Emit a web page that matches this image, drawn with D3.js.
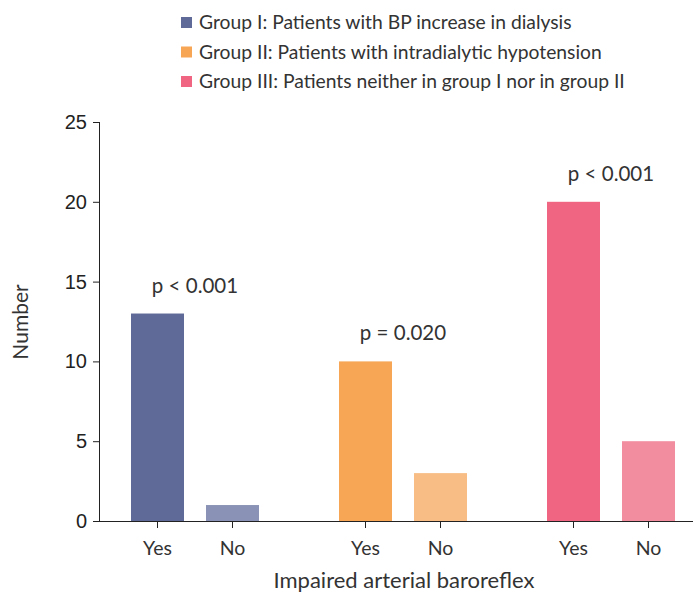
<!DOCTYPE html>
<html><head><meta charset="utf-8">
<script src="https://cdn.jsdelivr.net/npm/d3@7"></script>
<style>body{margin:0;background:#fff}svg{display:block}</style>
</head><body>
<svg id="c" width="694" height="592"></svg>
<script>
const groups = ["Group I", "Group II", "Group III"];
const legendLabels = [
  "Group I: Patients with BP increase in dialysis",
  "Group II: Patients with intradialytic hypotension",
  "Group III: Patients neither in group I nor in group II"
];
const subCats = ["Yes", "No"];
const yesValues = [13, 10, 20];
const noValues = [1, 3, 5];
const pLabels = ["p < 0.001", "p = 0.020", "p < 0.001"];
const yTicks = [0, 5, 10, 15, 20, 25];
const yesColors = ["#5f6a98", "#f7a655", "#f06682"];
const noColors = ["#8a93b6", "#f8bd84", "#f28da0"];

const svg = d3.select("#c");
const sansFont = "Lato, 'Source Sans Pro', sans-serif";
const textCol = "#333";

const x0 = 100, x1 = 693, yTop = 122, yBot = 521;
const y = d3.scaleLinear().domain([0, 25]).range([yBot, yTop]);
const gx = d3.scalePoint().domain(groups).range([195, 611]);
const sx = d3.scalePoint().domain(subCats).range([-37.5, 37.5]);
const barW = 53;

const data = [];
groups.forEach((g, i) => {
  data.push({g, s: "Yes", v: yesValues[i], c: yesColors[i]});
  data.push({g, s: "No", v: noValues[i], c: noColors[i]});
});

svg.selectAll("rect.bar").data(data).join("rect")
  .attr("class", "bar")
  .attr("x", d => gx(d.g) + sx(d.s) - barW / 2)
  .attr("width", barW)
  .attr("y", d => y(d.v))
  .attr("height", d => y(0) - y(d.v))
  .attr("fill", d => d.c);

// Y axis
const yAxis = svg.append("g").attr("transform", `translate(${x0},0)`)
  .call(d3.axisLeft(y).tickValues(yTicks).tickSize(7).tickPadding(6));
yAxis.select(".domain").attr("stroke", "#222").attr("d", `M-0.5,${yTop}V${yBot}`);
yAxis.selectAll(".tick line").attr("stroke", "#222");
yAxis.selectAll(".tick text").attr("font-family", "'Liberation Sans', Arial, sans-serif")
  .attr("font-size", 20).attr("fill", "#222");

// X axis
svg.append("line").attr("x1", x0 - 0.5).attr("x2", x1).attr("y1", yBot + 0.5).attr("y2", yBot + 0.5)
  .attr("stroke", "#222");
svg.selectAll("line.xt").data(data).join("line").attr("class", "xt")
  .attr("x1", d => gx(d.g) + sx(d.s)).attr("x2", d => gx(d.g) + sx(d.s))
  .attr("y1", yBot).attr("y2", yBot + 7).attr("stroke", "#222");
svg.selectAll("text.xl").data(data).join("text").attr("class", "xl")
  .attr("x", d => gx(d.g) + sx(d.s)).attr("y", 555)
  .attr("text-anchor", "middle").attr("font-family", sansFont).attr("font-size", 19.5)
  .attr("fill", textCol).text(d => d.s);

// p labels
svg.selectAll("text.p").data(groups).join("text").attr("class", "p")
  .attr("x", g => gx(g)).attr("y", (g, i) => y(yesValues[i]) - 21)
  .attr("text-anchor", "middle").attr("font-family", sansFont).attr("font-size", 20.5)
  .attr("fill", textCol).text((g, i) => pLabels[i]);

// axis titles
svg.append("text").attr("transform", "translate(28,322) rotate(-90)")
  .attr("text-anchor", "middle").attr("font-family", sansFont).attr("font-size", 21)
  .attr("fill", textCol).text("Number");
svg.append("text").attr("x", 404).attr("y", 588)
  .attr("text-anchor", "middle").attr("font-family", sansFont).attr("font-size", 22)
  .attr("fill", textCol).text("Impaired arterial baroreflex");

// legend
const lg = svg.selectAll("g.lg").data(legendLabels).join("g").attr("class", "lg")
  .attr("transform", (d, i) => `translate(181,${17 + i * 29.5})`);
lg.append("rect").attr("width", 11).attr("height", 11).attr("fill", (d, i) => yesColors[i]);
lg.append("text").attr("x", 18).attr("y", 12).attr("font-family", sansFont).attr("font-size", 19.3)
  .attr("fill", textCol).text(d => d);
</script>
</body></html>
